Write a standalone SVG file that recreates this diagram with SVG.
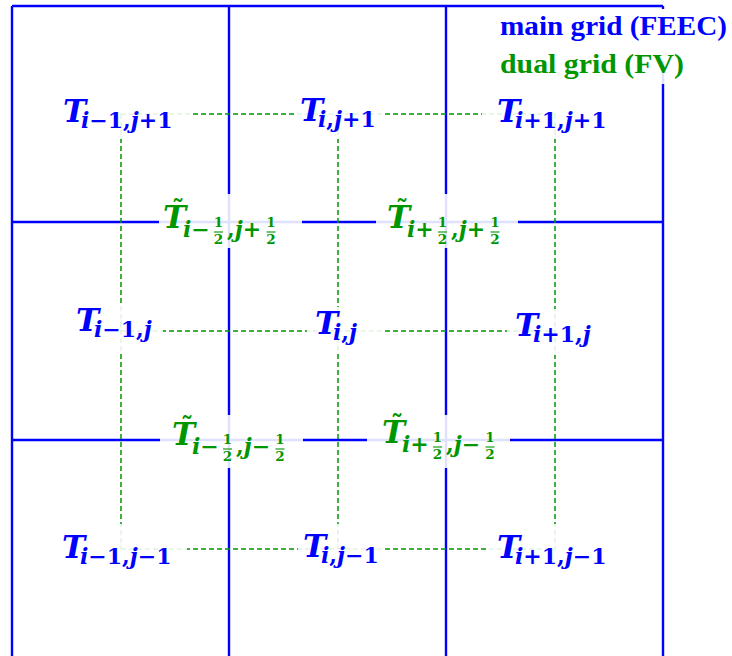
<svg xmlns="http://www.w3.org/2000/svg" width="732" height="656" viewBox="0 0 732 656">
<style>
.grid{stroke:#0000ff;stroke-width:2.4;fill:none}
.dual{stroke:#009600;stroke-width:1.5;stroke-dasharray:5 3;fill:none}
.bg{fill:#ffffff;fill-opacity:0.88}
.mt{font-family:"DejaVu Serif",serif;font-weight:bold}
.b{fill:#0000ff}
.g{fill:#009600}
.T{font-size:31px;font-style:italic}
.s{font-size:22px}
.i{font-style:italic}
.f{font-size:13.5px;text-anchor:middle}
.td{font-size:25px;text-anchor:middle}
.bar{stroke:#009600;stroke-width:1.1}
.leg{font-family:"Liberation Serif",serif;font-weight:bold;font-size:28px}
</style>
<rect width="732" height="656" fill="#ffffff"/>
<g id="connectors">
<g id="main-grid">
<path class="grid" d="M12 6H663M12 222H663M12 440H663M12 6V656M229 6V656M446 6V656M663 6V656"/>
</g>
<g id="dual-grid">
<path class="dual" d="M121 114H555M121 331H555M121 549H555M121 114V549M338 114V549M555 114V549"/>
</g>
</g>
<g id="legend">
<rect x="495" y="9" width="237" height="52" fill="#ffffff"/>
<rect class="bg" x="495" y="61" width="210" height="23"/>
<text class="leg b" x="500" y="35" textLength="227" lengthAdjust="spacingAndGlyphs">main grid (FEEC)</text>
<text class="leg g" x="500" y="73" textLength="184" lengthAdjust="spacingAndGlyphs">dual grid (FV)</text>
</g>
<g id="T_im1_jp1">
<rect class="bg" x="58" y="95" width="134" height="44"/>
<text class="mt b"><tspan class="T" x="63" y="122">T</tspan><tspan class="s" x="81" y="128"><tspan class="i">i</tspan>−1,<tspan class="i">j</tspan>+1</tspan></text>
</g>
<g id="T_i_jp1">
<rect class="bg" x="296" y="95" width="86" height="44"/>
<text class="mt b"><tspan class="T" x="300" y="121">T</tspan><tspan class="s" x="318" y="127"><tspan class="i">i</tspan>,<tspan class="i">j</tspan>+1</tspan></text>
</g>
<g id="T_ip1_jp1">
<rect class="bg" x="482" y="95" width="132" height="44"/>
<text class="mt b"><tspan class="T" x="497" y="122">T</tspan><tspan class="s" x="515" y="128"><tspan class="i">i</tspan>+1,<tspan class="i">j</tspan>+1</tspan></text>
</g>
<g id="T_im1_j">
<rect class="bg" x="71" y="306" width="92" height="46"/>
<text class="mt b"><tspan class="T" x="76" y="331">T</tspan><tspan class="s" x="94" y="337"><tspan class="i">i</tspan>−1,<tspan class="i">j</tspan></tspan></text>
</g>
<g id="T_i_j">
<rect class="bg" x="307" y="307" width="75" height="46"/>
<text class="mt b"><tspan class="T" x="315" y="334">T</tspan><tspan class="s" x="333" y="340"><tspan class="i">i</tspan>,<tspan class="i">j</tspan></tspan></text>
</g>
<g id="T_ip1_j">
<rect class="bg" x="507" y="309" width="98" height="46"/>
<text class="mt b"><tspan class="T" x="515" y="336">T</tspan><tspan class="s" x="533" y="342"><tspan class="i">i</tspan>+1,<tspan class="i">j</tspan></tspan></text>
</g>
<g id="T_im1_jm1">
<rect class="bg" x="57" y="524" width="130" height="46"/>
<text class="mt b"><tspan class="T" x="62" y="558">T</tspan><tspan class="s" x="80" y="564"><tspan class="i">i</tspan>−1,<tspan class="i">j</tspan>−1</tspan></text>
</g>
<g id="T_i_jm1">
<rect class="bg" x="298" y="524" width="85" height="46"/>
<text class="mt b"><tspan class="T" x="303" y="557">T</tspan><tspan class="s" x="321" y="563"><tspan class="i">i</tspan>,<tspan class="i">j</tspan>−1</tspan></text>
</g>
<g id="T_ip1_jm1">
<rect class="bg" x="487" y="524" width="126" height="46"/>
<text class="mt b"><tspan class="T" x="497" y="558">T</tspan><tspan class="s" x="515" y="564"><tspan class="i">i</tspan>+1,<tspan class="i">j</tspan>−1</tspan></text>
</g>
<g id="Tt_imh_jph">
<rect class="bg" x="159" y="194" width="143" height="54"/>
<text class="mt g"><tspan class="T" x="163" y="228">T</tspan><tspan class="s" x="183" y="237"><tspan class="i">i</tspan>−</tspan><tspan class="s" x="227" y="237">,<tspan class="i">j</tspan>+</tspan></text>
<text class="mt g td" x="178" y="218">˜</text>
<text class="mt g f" x="218.5" y="227">1</text><line class="bar" x1="214" y1="232" x2="223" y2="232"/><text class="mt g f" x="218.5" y="244">2</text>
<text class="mt g f" x="271" y="227">1</text><line class="bar" x1="266.5" y1="232" x2="275.5" y2="232"/><text class="mt g f" x="271" y="244">2</text>
</g>
<g id="Tt_iph_jph">
<rect class="bg" x="376" y="194" width="142" height="54"/>
<text class="mt g"><tspan class="T" x="387" y="228">T</tspan><tspan class="s" x="407" y="237"><tspan class="i">i</tspan>+</tspan><tspan class="s" x="451" y="237">,<tspan class="i">j</tspan>+</tspan></text>
<text class="mt g td" x="402" y="218">˜</text>
<text class="mt g f" x="442.5" y="227">1</text><line class="bar" x1="438" y1="232" x2="447" y2="232"/><text class="mt g f" x="442.5" y="244">2</text>
<text class="mt g f" x="495" y="227">1</text><line class="bar" x1="490.5" y1="232" x2="499.5" y2="232"/><text class="mt g f" x="495" y="244">2</text>
</g>
<g id="Tt_imh_jmh">
<rect class="bg" x="160" y="415" width="143" height="53"/>
<text class="mt g"><tspan class="T" x="172" y="445">T</tspan><tspan class="s" x="192" y="454"><tspan class="i">i</tspan>−</tspan><tspan class="s" x="236" y="454">,<tspan class="i">j</tspan>−</tspan></text>
<text class="mt g td" x="187" y="435">˜</text>
<text class="mt g f" x="227.5" y="444">1</text><line class="bar" x1="223" y1="449" x2="232" y2="449"/><text class="mt g f" x="227.5" y="461">2</text>
<text class="mt g f" x="280" y="444">1</text><line class="bar" x1="275.5" y1="449" x2="284.5" y2="449"/><text class="mt g f" x="280" y="461">2</text>
</g>
<g id="Tt_iph_jmh">
<rect class="bg" x="367" y="415" width="143" height="53"/>
<text class="mt g"><tspan class="T" x="382" y="443">T</tspan><tspan class="s" x="402" y="452"><tspan class="i">i</tspan>+</tspan><tspan class="s" x="446" y="452">,<tspan class="i">j</tspan>−</tspan></text>
<text class="mt g td" x="397" y="433">˜</text>
<text class="mt g f" x="437.5" y="442">1</text><line class="bar" x1="433" y1="447" x2="442" y2="447"/><text class="mt g f" x="437.5" y="459">2</text>
<text class="mt g f" x="490" y="442">1</text><line class="bar" x1="485.5" y1="447" x2="494.5" y2="447"/><text class="mt g f" x="490" y="459">2</text>
</g>
</svg>
